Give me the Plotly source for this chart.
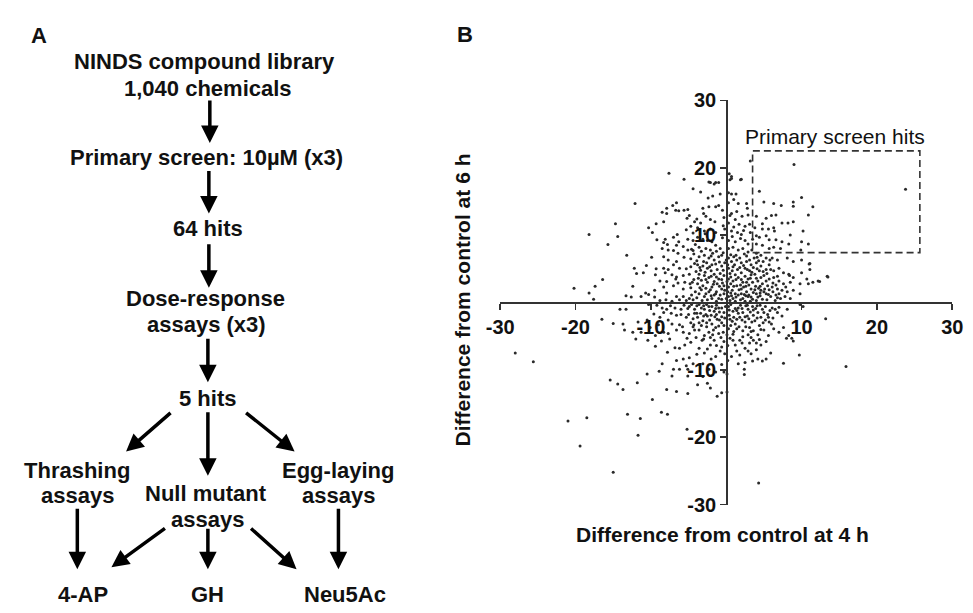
import plotly.graph_objects as go

W, H = 973, 613

# ---------------- Panel B data (difference from control) ----------------
upper_left_pts = [(-7.6,19.2),(-5.6,18.3),(-4.4,16.9),(-12.1,14.7),(-6.6,14.8),(-7.1,14.4),(-6.7,13.7),(-6.3,13.6),(-5.6,13.7),(-5.1,13.8),
 (-7.9,14.0),(-8.5,13.4),(-7.9,13.2),(-5.2,12.5),(-4.9,12.9),(-14.7,11.7),(-9.3,11.7),(-10.3,11.1),(-8.3,12.0),(-5.3,10.8),
 (-4.7,11.3),(-9.8,10.4),(-14.4,9.8),(-6.5,10.1),(-7.0,9.7),(-8.1,9.4),(-9.2,9.3),(-5.1,9.4),(-6.3,9.0),(-4.4,9.2),
 (-15.7,8.6),(-8.3,8.9),(-7.8,8.6),(-6.6,8.5),(-5.7,8.3),(-8.5,8.0),(-7.7,7.8),(-7.0,7.7),(-5.1,7.8),(-4.4,7.7),
 (-13.2,7.0),(-9.9,6.7),(-8.3,6.8),(-6.4,7.3),(-5.6,6.7),(-4.7,6.5),(-7.7,6.3),(-6.6,6.1),(-7.0,5.6),(-12.2,5.1),
 (-10.6,5.5),(-9.3,5.0),(-8.3,5.1),(-7.7,4.9),(-6.2,5.1),(-5.3,5.0),(-4.7,5.3),(-11.9,4.3),(-11.0,4.4),(-9.4,4.1),
 (-8.1,4.4),(-7.2,4.1),(-6.6,3.8),(-5.7,4.0),(-4.9,4.2),(-16.4,3.4),(-8.8,3.2),(-7.9,3.1),(-6.7,3.5),(-6.4,2.9),
 (-5.5,3.0),(-4.8,2.8),(-12.4,2.4),(-9.5,1.8),(-8.3,2.3),(-7.0,2.5),(-5.7,2.0),(-4.7,2.2),(-13.3,1.0),(-12.6,0.8),
 (-11.3,0.9),(-10.7,1.4),(-10.3,1.2),(-9.5,0.8),(-7.9,1.4),(-6.6,0.9),(-5.7,0.9),(-4.9,0.6)]

far_left_pts = [(-18.2,10.1),(-20.2,2.1),(-18.2,1.4),(-17.4,2.4),(-17.6,0.5),(-28.0,-7.5),(-25.6,-8.8),(-21.0,-17.6),
 (-18.5,-17.1),(-19.4,-21.3),(-15.0,-25.2),(-13.1,-16.6),(-11.4,-17.2),(-11.7,-19.7),(-8.6,-16.3),(-7.8,-16.6),(-5.2,-18.8)]

upper_core_pts = [(3.2,21.0),(0.5,18.2),(0.7,18.4),(1.9,18.2),(-2.1,17.8),(-1.4,17.8),(-1.0,17.8),(-2.4,15.5),(0.3,16.3),(0.7,16.1),
 (1.3,16.1),(4.4,16.5),(5.0,14.9),(6.3,14.7),(7.3,14.4),(8.9,14.9),(8.9,14.3),(10.0,15.6),(11.5,14.2),(10.9,13.0),
 (2.7,14.7),(2.8,14.0),(1.6,14.7),(0.3,14.8),(-1.0,14.4),(-1.4,14.2),(-2.3,14.2),(-3.1,14.0),(0.7,13.2),(1.4,13.5),
 (2.1,12.8),(2.9,13.0),(4.0,12.8),(5.3,12.5),(6.0,12.9),(6.6,13.0),(7.4,11.8),(8.2,11.8),(8.9,12.0),(-2.7,12.8),
 (-2.1,12.3),(-1.5,12.0),(0.3,11.8),(1.2,12.3),(1.7,11.6),(2.5,11.3),(3.1,11.6),(3.8,11.1),(4.8,11.7),(4.8,10.9),
 (5.6,10.9),(6.3,11.1),(6.4,10.6),(10.2,10.6),(-3.4,11.8),(-3.8,11.1),(0.7,10.6),(1.5,10.4),(2.0,10.1),(3.2,10.4),
 (4.0,9.9),(4.4,9.7),(5.3,9.9),(5.7,9.3),(6.6,9.3),(7.4,9.0),(8.3,8.7),(8.5,10.0),(10.0,9.0),(10.9,8.7),
 (0.3,9.2),(1.2,9.0),(2.5,9.2),(2.9,8.7),(4.0,8.7),(4.8,8.5),(5.7,8.0),(6.3,8.2),(7.2,8.0),(-3.8,9.7),
 (-3.1,9.4),(-2.5,9.2),(-1.9,9.0),(-1.4,8.5),(0.3,8.0),(0.9,8.2),(1.6,7.8),(2.2,8.0),(2.9,7.5),(4.0,7.3),
 (4.6,7.0),(5.3,6.6),(6.1,6.6),(6.8,6.3),(8.1,6.6),(8.9,6.1),(10.0,6.3),(11.1,4.9),(10.7,3.5),(-3.6,6.8),
 (-2.9,7.0),(-2.3,6.6),(-1.6,6.3),(-1.0,6.8),(0.3,6.6),(0.7,6.1),(1.4,6.3),(2.0,5.9),(2.7,6.1),(3.3,5.6),
 (4.0,5.9),(4.6,5.4),(5.3,4.9),(5.7,5.6),(6.3,4.7),(7.0,5.1),(7.6,4.4),(8.3,4.2),(8.9,3.7),(9.8,2.8),
 (10.9,2.8),(11.5,3.0),(12.2,3.2),(-3.8,5.6),(-3.1,5.4),(-2.5,5.1),(-1.9,5.6),(-1.2,4.9),(-0.6,5.4),(0.3,5.1),
 (0.8,4.7),(1.5,4.9),(2.0,4.4),(2.5,5.1),(3.1,4.7),(3.8,4.2),(4.4,4.7),(5.0,4.0),(5.7,3.5),(6.3,3.7),
 (7.0,3.2),(7.6,2.8),(8.5,3.0),(-3.6,4.2),(-2.9,4.0),(-2.3,3.7),(-1.6,4.2),(-1.0,3.5),(-0.3,4.0),(0.3,3.5),
 (0.9,3.2),(1.6,3.7),(2.2,3.0),(2.9,3.5),(3.5,3.0),(4.2,3.2),(4.8,2.8),(5.5,2.5),(6.1,2.3),(6.8,2.0),
 (7.4,1.8),(8.1,1.6),(8.9,1.8),(9.8,1.3),(-3.8,2.8),(-3.1,2.5),(-2.5,3.0),(-1.9,2.3),(-1.2,2.8),(-0.6,2.0),
 (0.3,2.3),(0.8,1.8),(1.4,2.5),(2.0,2.0),(2.7,1.6),(3.3,2.0),(4.0,1.3),(4.6,1.8),(5.3,1.3),(5.9,0.9),
 (6.6,1.1),(7.2,0.6),(7.8,0.9),(8.5,0.6),(-3.6,1.3),(-2.9,0.9),(-2.3,1.6),(-1.6,1.1),(-1.0,0.6),(-0.3,1.3),
 (0.3,0.9),(0.9,0.6),(1.6,1.1),(2.2,0.6),(2.9,0.9),(3.5,0.5),(4.2,0.8),(4.8,0.5),(-3.6,8.2),(-2.7,8.0),
 (-2.1,7.8),(-0.8,8.0),(-1.4,10.4),(-2.1,10.9),(-0.8,16.1)]

upper_extra_pts = [(9.0,20.5),(23.8,16.8),(-1.6,17.6),(0.4,19.1),(0.7,18.7),(2.0,18.3),(13.4,3.9),(12.4,3.1),
 (10.0,4.4),(11.0,5.7),(9.9,7.8),(8.4,4.0),(-2.3,17.9),(13.5,3.8),(11.1,5.8)]

dense_core_pts = [(-0.5,9.6),(0.8,9.8),(1.9,9.5),(3.5,9.4),(-2.8,10.2),(-0.2,10.9),(1.0,11.2),(2.3,10.7),
 (-0.4,7.4),(0.6,7.1),(1.3,7.0),(2.4,7.2),(3.4,7.8),(3.7,6.6),(-1.8,7.3),(-3.3,7.6),(-2.6,5.9),(-0.9,6.0),(-0.2,5.9),(1.1,5.6),
 (2.3,5.5),(3.6,5.2),(4.3,6.2),(-3.4,4.8),(-2.0,4.7),(-0.8,4.3),(0.5,4.3),(1.2,4.1),(2.5,3.9),(3.3,4.1),
 (4.6,3.7),(5.4,4.3),(6.8,3.9),(-3.3,3.3),(-1.6,3.1),(-0.5,2.9),(0.6,2.8),(1.9,2.6),(2.6,2.4),(3.9,2.4),
 (5.1,2.0),(6.2,2.9),(7.9,2.3),(-3.3,1.9),(-2.1,1.9),(-1.3,1.6),(-0.2,1.8),(0.6,1.4),(1.2,1.3),(2.4,1.2),
 (3.0,1.1),(3.8,1.9),(4.5,1.0),(6.2,1.6),(-3.2,0.3),(-2.5,0.4),(-1.9,0.6),(-1.3,0.2),(-0.6,0.5),(0.5,0.3),
 (1.2,0.2),(1.9,0.4),(2.5,0.2),(3.2,0.2),(4.0,0.3),(5.4,0.4),(6.5,0.3),(-8.8,0.3),(-8.0,0.4),(-7.2,0.2),
 (-6.2,0.4),(-5.3,0.3),(-4.4,0.4),(-9.2,-0.4),(-7.4,-0.5),(-5.6,-0.4),(-4.6,-0.3),(-3.3,-0.8),(-2.6,-0.3),(-1.9,-0.6),
 (-1.3,-0.4),(-0.6,-0.8),(0.6,-0.3),(1.2,-0.9),(1.9,-0.4),(2.6,-0.5),(3.2,-1.4),(3.9,-0.9),(4.5,-0.4),(5.2,-0.6),
 (5.8,-1.2),(7.0,-0.7),(-3.4,-1.6),(-2.7,-1.8),(-2.0,-1.9),(-1.3,-1.8),(-0.6,-2.1),(0.4,-1.9),(1.0,-2.2),(1.6,-1.6),
 (2.5,-2.1),(3.0,-2.4),(3.6,-1.9),(4.6,-2.2),(5.2,-2.6),(6.2,-2.3),(-3.3,-3.4),(-2.6,-3.6),(-1.4,-3.7),(-0.3,-3.4),
 (0.3,-3.9),(1.0,-4.3),(1.7,-3.6),(2.2,-4.2),(2.9,-4.8),(3.6,-4.2),(4.2,-4.8),(5.6,-4.9),(-3.2,-5.6),(-2.1,-5.2),
 (-1.3,-6.4),(-0.6,-6.6),(0.2,-6.4),(0.9,-5.6),(2.1,-6.0),(2.9,-7.2),(3.6,-5.6),(4.4,-5.5),(-2.0,-8.4),(0.2,-8.6),
 (1.6,-9.1),(-0.6,-9.2),(-6.0,-1.8),(-7.3,-1.6),(-8.3,-1.5),(-9.6,-1.7),(-10.5,-2.6),(-4.4,-2.4),(-5.8,-3.6),(-9.0,-3.3),
 (-10.1,-3.7),(-4.0,-5.2),(-5.2,-5.3),(-8.6,-5.7),(-10.4,-5.6),(-3.9,-7.7),(-7.8,-7.4),(-3.9,12.4),(-3.0,13.2),(-0.3,12.6),
 (0.5,12.9),(-0.5,13.7),(1.0,15.3),(-1.8,15.8),(-3.4,16.4),(-2.9,10.6),(-0.4,11.4),(-4.3,3.4),(-4.2,5.8),(-4.3,7.2),
 (-4.1,8.6),(-4.4,10.3),(-4.2,12.0),(-4.1,1.6),(-4.2,-1.6),(-4.3,-3.3)]

dense_core_pts2 = [(-4.6,7.9),(-3.9,6.2),(-3.0,6.1),(-2.0,6.9),(-1.3,7.6),(-0.6,7.0),(0.0,6.3),(1.0,6.8),(1.8,6.6),(2.7,6.9),
 (3.1,6.3),(4.1,6.7),(4.9,6.1),(5.8,6.3),(-4.0,4.6),(-3.5,5.2),(-2.8,4.5),(-2.2,5.3),(-1.4,5.7),(-0.4,4.8),
 (0.2,5.6),(0.9,5.3),(1.8,5.2),(2.8,4.9),(3.4,4.5),(4.1,5.0),(4.9,4.6),(5.9,4.9),(-4.5,3.0),(-3.7,3.6),
 (-2.7,3.4),(-2.0,3.9),(-1.3,3.8),(-0.6,3.4),(0.1,3.1),(0.6,3.8),(1.3,3.4),(2.0,3.4),(2.7,3.0),(3.2,3.6),
 (4.0,3.6),(4.5,2.4),(5.3,3.2),(6.6,2.6),(-3.5,2.2),(-2.7,2.1),(-1.7,2.7),(-0.9,2.4),(-0.3,2.5),(0.2,1.6),
 (1.0,2.4),(1.7,1.9),(2.3,2.3),(3.0,2.6),(3.6,1.5),(4.3,2.1),(5.0,1.6),(5.7,1.9),(7.0,1.3),(-4.6,1.1),
 (-3.9,0.7),(-2.7,1.3),(-2.0,1.0),(-1.4,1.3),(-0.8,1.1),(0.0,0.6),(0.7,1.0),(1.3,0.8),(2.0,1.3),(2.6,1.0),
 (3.3,0.8),(4.5,1.4),(5.6,1.2),(6.8,0.7),(-5.1,-0.9),(-3.9,-0.5),(-3.0,-0.5),(-2.2,-1.2),(-1.4,-0.9),(-0.9,-1.4),
 (-0.1,-0.6),(0.4,-1.1),(1.4,-1.2),(2.1,-0.9),(2.8,-0.4),(3.6,-1.1),(4.1,-0.5),(5.0,-1.5),(6.5,-1.0),(-5.0,-1.8),
 (-3.9,-1.6),(-3.0,-2.0),(-2.2,-2.6),(-1.5,-2.1),(-0.9,-2.6),(-0.2,-2.3),(0.8,-2.8),(1.4,-2.5),(2.1,-2.6),(2.8,-2.0),
 (3.4,-2.9),(4.1,-2.3),(4.9,-3.0),(5.6,-2.2),(-4.4,-3.6),(-3.6,-3.0),(-2.6,-3.0),(-1.7,-4.1),(-1.0,-3.5),(-0.4,-4.4),
 (0.6,-3.4),(1.4,-3.9),(2.6,-3.6),(3.3,-4.3),(4.6,-4.0),(6.0,-3.2),(-3.0,-5.4),(-1.8,-4.8),(-0.7,-5.2),(0.1,-4.8),
 (0.9,-4.7),(2.2,-5.1),(3.3,-5.2),(4.0,-6.0),(-2.5,-6.9),(-0.2,-7.6),(1.8,-7.8),(3.3,-7.6)]

lower_left_pts = [(-10.3,-0.3),(-14.1,-1.0),(-13.3,-1.0),(-8.5,-0.8),(-7.9,-1.0),(-6.8,-0.8),(-6.0,-1.0),(-4.9,-0.6),(-4.2,-1.0),(-16.5,-2.5),
 (-15.0,-3.1),(-13.7,-3.2),(-11.7,-2.9),(-8.8,-2.2),(-7.7,-2.6),(-7.2,-3.2),(-6.6,-1.9),(-6.2,-3.3),(-5.3,-2.2),(-4.7,-3.0),
 (-13.5,-4.1),(-12.4,-4.4),(-11.3,-4.4),(-9.4,-4.9),(-8.3,-4.4),(-7.7,-4.6),(-6.6,-4.1),(-5.7,-4.4),(-4.9,-4.6),(-4.2,-4.1),
 (-12.0,-5.4),(-9.4,-6.5),(-7.5,-5.4),(-6.8,-6.7),(-6.2,-6.8),(-5.5,-6.3),(-4.7,-5.9),(-6.6,-8.6),(-5.7,-8.4),(-4.9,-8.2),
 (-5.3,-9.4),(-4.4,-9.1),(-8.5,-9.1),(-7.0,-9.9),(-6.2,-9.9),(-5.1,-9.9),(-10.5,-10.6),(-8.9,-10.2),(-7.2,-10.9),(-5.1,-10.9),
 (-15.4,-11.5),(-14.4,-12.1),(-13.7,-12.9),(-11.8,-11.9),(-7.9,-12.9),(-6.6,-13.2),(-5.1,-13.5),(-9.8,-14.4)]

lower_core_pts = [(-3.6,-0.3),(-2.9,-1.0),(-2.3,-0.6),(-1.6,-1.3),(-1.0,-0.8),(-0.3,-1.5),(0.3,-0.6),(0.9,-1.3),(1.6,-0.8),(2.2,-1.5),
 (2.9,-1.0),(3.5,-0.6),(4.2,-1.5),(4.8,-1.0),(5.5,-1.8),(6.1,-0.8),(6.8,-1.5),(7.4,-2.0),(8.1,-1.0),(9.8,-0.3),
 (10.2,-0.6),(-3.8,-2.2),(-3.1,-2.7),(-2.5,-2.0),(-1.9,-3.2),(-1.2,-2.5),(-0.6,-3.0),(0.5,-2.5),(1.2,-3.2),(1.8,-2.2),
 (2.5,-2.9),(3.1,-3.7),(3.8,-2.7),(4.4,-3.4),(5.0,-4.1),(5.7,-2.9),(6.3,-3.9),(7.0,-4.4),(7.6,-3.7),(8.3,-4.9),
 (8.7,-5.3),(8.9,-5.7),(8.0,-5.3),(-3.6,-4.1),(-2.9,-4.9),(-2.3,-4.4),(-1.6,-5.6),(-1.0,-4.6),(-0.3,-5.8),(0.5,-5.3),
 (1.2,-6.3),(1.8,-5.6),(2.5,-6.8),(3.1,-6.0),(4.0,-7.0),(4.6,-6.3),(5.3,-5.8),(5.9,-7.5),(-3.6,-6.8),(-2.9,-7.5),
 (-2.1,-6.3),(-1.4,-8.0),(-0.8,-7.2),(0.7,-8.0),(1.4,-7.2),(2.5,-8.9),(3.5,-8.7),(4.2,-8.4),(4.8,-8.7),(5.3,-8.4),
 (2.4,-9.9),(2.4,-10.7),(7.6,-9.0),(9.7,-7.8),(-3.1,-9.1),(-2.3,-9.9),(-1.4,-10.3),(-0.3,-10.3),(0.1,-10.6),(-3.8,-12.2),
 (-2.5,-12.0),(-2.1,-12.7),(-1.2,-13.9),(-0.6,-13.4),(0.1,-13.3),(-3.1,-11.0)]

right_outlier_pts = [(15.9,-9.5),(13.2,-2.4),(4.3,-26.8)]

point_groups = [upper_left_pts, far_left_pts, upper_core_pts, upper_extra_pts, dense_core_pts,
                dense_core_pts2, lower_left_pts, lower_core_pts, right_outlier_pts]

axis_ticks = [-30, -20, -10, 10, 20, 30]
axis_ticklabels = ["-30", "-20", "-10", "10", "20", "30"]
hits_box = dict(x0=3.5, x1=25.7, y0=7.4, y1=22.5)

# ---------------- Panel A flowchart text ----------------
flow_labels = [
    ("NINDS compound library", 196, 52), ("1,040 chemicals", 199, 80),
    ("Primary screen: 10\u00b5M (x3)", 198, 152), ("64 hits", 199, 226),
    ("Dose-response", 197, 298), ("assays (x3)", 198, 325), ("5 hits", 199, 402),
    ("Thrashing", 65, 477), ("assays", 65, 503),
    ("Null mutant", 197, 500), ("assays", 199, 527),
    ("Egg-laying", 333, 477), ("assays", 333, 503),
    ("4-AP", 71, 605), ("GH", 199, 605), ("Neu5Ac", 340, 605),
]
# arrows: (tail_x, tail_y, tip_x, tip_y) in figure pixels
flow_arrows = [
    (201, 93, 201, 137), (200, 166, 200, 210), (200, 242, 200, 287), (199, 340, 199, 385),
    (161, 417, 115, 457), (199, 417, 199, 482), (238, 417, 288, 457),
    (65, 517, 65, 579), (155, 537, 100, 577), (199, 537, 199, 579),
    (243, 537, 290, 579), (333, 517, 333, 579),
]

xs, ys = [], []
for g in point_groups:
    for px, py in g:
        xs.append(px)
        ys.append(py)

FONT = "Liberation Sans, Arial, sans-serif"
INK = "#111111"
AX = "#333333"

fig = go.Figure()
fig.add_trace(go.Scatter(x=xs, y=ys, mode="markers",
                         marker=dict(size=3, color="#2a2a2a", line=dict(width=0)),
                         hoverinfo="skip", showlegend=False))

xdom = [499 / W, 963 / W]
ydom = [(H - 512) / H, (H - 92.7) / H]

axis_common = dict(range=[-30, 30], anchor="free",
                   showgrid=False, zeroline=False, showline=True, linecolor=AX, linewidth=1.6,
                   ticks="outside", ticklen=6, tickwidth=1.6, tickcolor=AX,
                   tickvals=axis_ticks, ticktext=axis_ticklabels, ticklabeloverflow="allow",
                   tickfont=dict(family=FONT, size=20, color=INK, weight="bold"))

fig.update_layout(
    width=W, height=H, margin=dict(l=0, r=0, t=0, b=0),
    paper_bgcolor="white", plot_bgcolor="white", showlegend=False,
    xaxis=dict(domain=xdom, position=(ydom[0] + ydom[1]) / 2, **axis_common),
    yaxis=dict(domain=ydom, position=(xdom[0] + xdom[1]) / 2, **axis_common),
)

fig.add_shape(type="rect", xref="x", yref="y", **hits_box,
              line=dict(color=AX, width=1.6, dash="7px,4px"))

ann = []
ann.append(dict(text="Primary screen hits", x=14.4, y=24.7, xref="x", yref="y",
                showarrow=False, xanchor="center", yanchor="middle",
                font=dict(family=FONT, size=21, color=INK)))
ann.append(dict(text="Difference from control at 4 h", x=727 / W, y=1 - 543 / H,
                xref="paper", yref="paper", showarrow=False, xanchor="center", yanchor="middle",
                font=dict(family=FONT, size=21, color=INK, weight="bold")))
ann.append(dict(text="Difference from control at 6 h", x=460 / W, y=1 - 300 / H, textangle=-90,
                xref="paper", yref="paper", showarrow=False, xanchor="center", yanchor="middle",
                font=dict(family=FONT, size=21, color=INK, weight="bold")))
ann.append(dict(text="A", x=26 / W, y=1 - 25 / H, xref="paper", yref="paper", showarrow=False,
                xanchor="center", yanchor="middle",
                font=dict(family=FONT, size=22, color=INK, weight="bold")))
ann.append(dict(text="B", x=463 / W, y=1 - 24 / H, xref="paper", yref="paper", showarrow=False,
                xanchor="center", yanchor="middle",
                font=dict(family=FONT, size=22, color=INK, weight="bold")))

for txt, cx, cy in flow_labels:
    ann.append(dict(text=txt, x=cx / W, y=1 - cy / H, xref="paper", yref="paper",
                    showarrow=False, xanchor="center", yanchor="middle",
                    font=dict(family=FONT, size=22, color=INK, weight="bold")))

for tx, ty, hx, hy in flow_arrows:
    ann.append(dict(text="", x=hx / W, y=1 - hy / H, xref="paper", yref="paper",
                    ax=tx - hx, ay=ty - hy, axref="pixel", ayref="pixel",
                    showarrow=True, arrowhead=2, arrowsize=1.0, arrowwidth=3.5,
                    arrowcolor="#000000", standoff=0, startstandoff=0))

fig.update_layout(annotations=ann)
fig.write_html("out.html", config={"displayModeBar": False, "staticPlot": True},
               post_script="document.body.style.margin='0';document.body.style.overflow='hidden';")
